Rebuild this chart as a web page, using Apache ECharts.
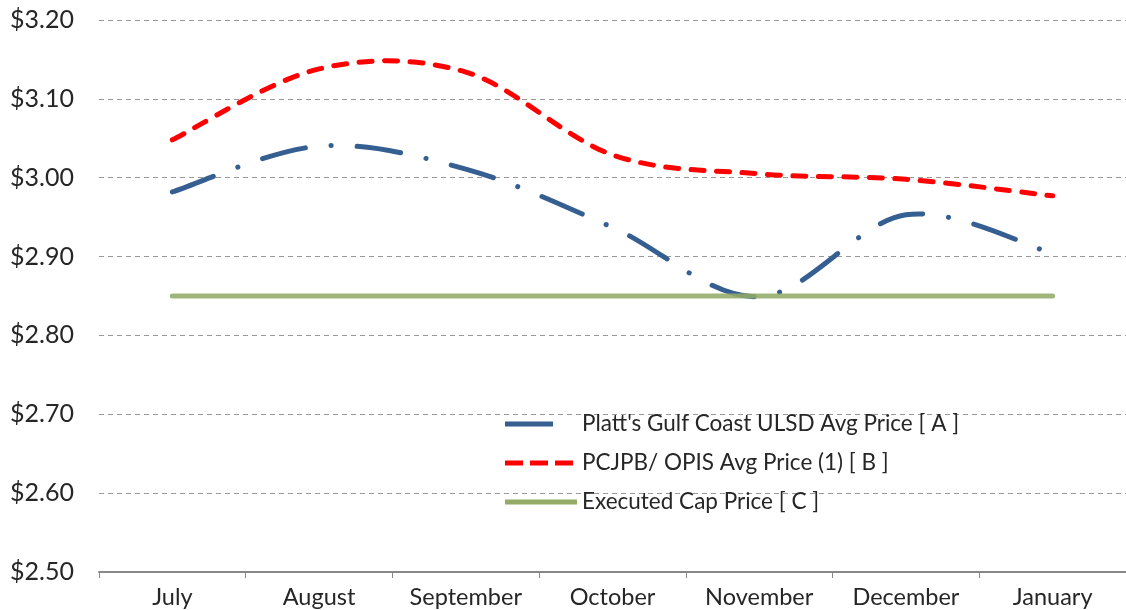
<!DOCTYPE html>
<html>
<head>
<meta charset="utf-8">
<script src="https://cdn.jsdelivr.net/npm/echarts@6/dist/echarts.min.js"></script>
<style>html,body{margin:0;padding:0;background:#fff}#c{width:1126px;height:610px}</style>
</head>
<body>
<div id="c"></div>
<script>
const categories = ['July','August','September','October','November','December','January'];
const plattsA = [2.982, 3.040, 3.011, 2.937, 2.849, 2.953, 2.904];
const opisB = [3.048, 3.138, 3.134, 3.029, 3.005, 2.998, 2.977];
const capC = [2.85, 2.85, 2.85, 2.85, 2.85, 2.85, 2.85];
const yTicks = [2.5, 2.6, 2.7, 2.8, 2.9, 3.0, 3.1, 3.2];
const seriesNames = ["Platt's Gulf Coast ULSD Avg Price [ A ]", "PCJPB/ OPIS Avg Price (1) [ B ]", "Executed Cap Price [ C ]"];

const FONT = 'Lato';

// Smooth curve (Catmull-Rom style, like spreadsheet smoothing) through data points mapped by the axes
function smoothPath(pts) {
  let d = 'M' + pts[0][0] + ',' + pts[0][1];
  const t = 1 / 6;
  for (let i = 0; i < pts.length - 1; i++) {
    const p0 = pts[Math.max(i - 1, 0)], p1 = pts[i], p2 = pts[i + 1], p3 = pts[Math.min(i + 2, pts.length - 1)];
    const c1x = p1[0] + (p2[0] - p0[0]) * t, c1y = p1[1] + (p2[1] - p0[1]) * t;
    const c2x = p2[0] - (p3[0] - p1[0]) * t, c2y = p2[1] - (p3[1] - p1[1]) * t;
    d += ' C' + c1x + ',' + c1y + ' ' + c2x + ',' + c2y + ' ' + p2[0] + ',' + p2[1];
  }
  return d;
}

function curveSeries(name, arr, color, dash, opacity) {
  return {
    name: name, type: 'custom',
    data: arr.map((v, i) => [i, v]),
    encode: {x: 0, y: 1},
    itemStyle: {color: color},
    renderItem: function (params, api) {
      if (params.dataIndex !== 0) return null;
      const pts = arr.map((v, i) => api.coord([i, v]));
      return {
        type: 'path',
        shape: {pathData: smoothPath(pts)},
        style: {fill: 'none', stroke: color, lineWidth: 5, lineCap: 'round', lineJoin: 'round',
          lineDash: dash, opacity: opacity}
      };
    }
  };
}

const chart = echarts.init(document.getElementById('c'));
chart.setOption({
  animation: false,
  grid: {left: 99, right: -3, top: 20, bottom: 38, containLabel: false},
  legend: {
    orient: 'vertical', left: 500, top: 407, itemWidth: 72, itemHeight: 5, itemGap: 15,
    textStyle: {fontFamily: FONT, fontSize: 22.5, color: '#262626', lineHeight: 24},
    data: [
      {name: seriesNames[0], icon: 'path://M0,0H48V5H0Z M71.99,2.5H72V2.51H71.99Z'},
      {name: seriesNames[1], icon: 'path://M0,0H18V5H0Z M25,0H43V5H25Z M50,0H68V5H50Z M71.99,2.5H72V2.51H71.99Z'},
      {name: seriesNames[2], icon: 'path://M0,0H72V5H0Z'}
    ]
  },
  xAxis: {
    type: 'category', data: categories, boundaryGap: true,
    axisLine: {lineStyle: {color: '#888', width: 2}},
    axisTick: {show: true, length: 6, lineStyle: {color: '#888'}},
    axisLabel: {fontFamily: FONT, fontSize: 23.5, color: '#262626', margin: 13}
  },
  yAxis: {
    type: 'value', min: yTicks[0], max: yTicks[yTicks.length - 1], interval: 0.1,
    axisLine: {show: false}, axisTick: {show: false},
    axisLabel: {fontFamily: FONT, fontSize: 25, color: '#262626', margin: 25,
      formatter: v => '$' + v.toFixed(2)},
    splitLine: {lineStyle: {color: '#999', type: [5, 4], width: 1}}
  },
  series: [
    curveSeries(seriesNames[0], plattsA, '#365F91', [44, 26, 0.1, 26], 1),
    curveSeries(seriesNames[1], opisB, '#FF0000', [13, 12.5], 1),
    curveSeries(seriesNames[2], capC, '#93AB66', null, 0.88)
  ]
});
</script>
</body>
</html>
